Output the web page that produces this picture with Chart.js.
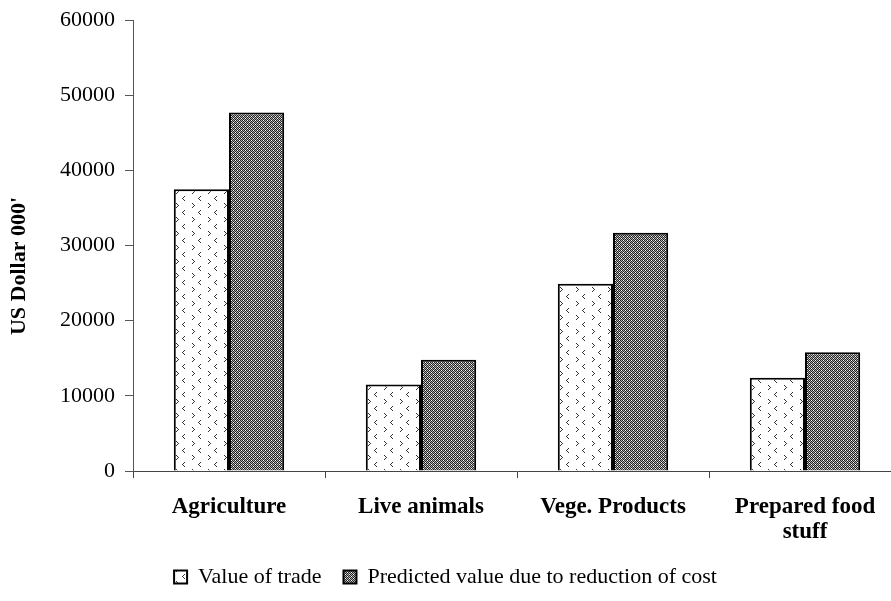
<!DOCTYPE html>
<html>
<head>
<meta charset="utf-8">
<script src="https://cdn.jsdelivr.net/npm/chart.js@4.4.1/dist/chart.umd.min.js"></script>
<style>
  html, body { margin: 0; padding: 0; background: #fff; overflow: hidden; }
  #wrap { width: 911px; height: 601px; }
</style>
</head>
<body>
<div id="wrap"><canvas id="trade-chart" width="911" height="601"></canvas></div>
<script>
// chart data
const categories = ['Agriculture', 'Live animals', 'Vege. Products', ['Prepared food', 'stuff']];
const valueOfTrade = [37500, 11500, 24900, 12400];
const predictedValue = [47700, 14800, 31700, 15800];
const seriesNames = ['Value of trade', 'Predicted value due to reduction of cost'];
const yTicks = [0, 10000, 20000, 30000, 40000, 50000, 60000];
const yTitle = "US Dollar 000'";

const serif = "'Liberation Serif', 'Times New Roman', serif";

// white with small dotted chevrons
function chevronPattern() {
    const c = document.createElement('canvas');
    c.width = 16; c.height = 14;
    const g = c.getContext('2d');
    g.fillStyle = '#fff';
    g.fillRect(0, 0, 16, 14);
    g.fillStyle = '#333';
    // '<'
    g.fillRect(8, 0, 1, 1); g.fillRect(7, 1, 1, 1); g.fillRect(6, 2, 1, 1);
    g.fillRect(7, 3, 1, 1); g.fillRect(8, 4, 1, 1);
    // '>'
    g.fillRect(0, 7, 1, 1); g.fillRect(1, 8, 1, 1); g.fillRect(2, 9, 1, 1);
    g.fillRect(1, 10, 1, 1); g.fillRect(0, 11, 1, 1);
    return g.createPattern(c, 'repeat');
}

// dense grey checker
function checkerPattern() {
    const c = document.createElement('canvas');
    c.width = 4; c.height = 4;
    const g = c.getContext('2d');
    for (let x = 0; x < 4; x++) {
        for (let y = 0; y < 4; y++) {
            g.fillStyle = (x + y) % 2 === 0 ? '#222' : '#b0b0b0';
            g.fillRect(x, y, 1, 1);
        }
    }
    g.fillStyle = '#fff';
    g.fillRect(1, 2, 1, 1);
    g.fillRect(3, 0, 1, 1);
    return g.createPattern(c, 'repeat');
}

const yTitlePlugin = {
    id: 'yTitle',
    afterDraw(chart) {
        const ctx = chart.ctx;
        ctx.save();
        ctx.translate(19, 266);
        ctx.rotate(-Math.PI / 2);
        ctx.font = 'bold 22px ' + serif;
        ctx.fillStyle = '#000';
        ctx.textAlign = 'center';
        ctx.textBaseline = 'middle';
        ctx.fillText(yTitle, 0, 0);
        ctx.restore();
    }
};

const ctx = document.getElementById('trade-chart').getContext('2d');
const tradeChart = new Chart(ctx, {
    type: 'bar',
    data: {
        labels: categories,
        datasets: [{
            label: seriesNames[0],
            data: valueOfTrade,
            backgroundColor: chevronPattern(),
            borderColor: '#000',
            borderWidth: 2
        }, {
            label: seriesNames[1],
            data: predictedValue,
            backgroundColor: checkerPattern(),
            borderColor: '#000',
            borderWidth: 2
        }]
    },
    options: {
        responsive: false,
        animation: false,
        layout: {
            padding: { top: 20, left: -10, right: 10, bottom: 3 }
        },
        datasets: {
            bar: { categoryPercentage: 0.575, barPercentage: 1.0 }
        },
        scales: {
            x: {
                afterFit(axis) { axis.height = 73; },
                grid: {
                    display: true,
                    drawOnChartArea: false,
                    drawTicks: true,
                    tickLength: 7,
                    color: '#444',
                    offset: true
                },
                border: { display: true, color: '#444', width: 1 },
                ticks: {
                    color: '#000',
                    padding: 16,
                    maxRotation: 0,
                    autoSkip: false,
                    font: { family: serif, size: 23, weight: 'bold', lineHeight: 1.1 }
                }
            },
            y: {
                min: 0,
                max: 60000,
                afterFit(axis) {
                    axis.width = 143;
                    axis.paddingTop = 10;
                },
                afterBuildTicks(axis) { axis.ticks = yTicks.map(v => ({ value: v })); },
                grid: {
                    display: true,
                    drawOnChartArea: false,
                    drawTicks: true,
                    tickLength: 8,
                    color: '#555'
                },
                border: { display: true, color: '#555', width: 1 },
                ticks: {
                    color: '#000',
                    padding: 10,
                    font: { family: serif, size: 22 },
                    callback: v => String(v)
                }
            }
        },
        plugins: {
            legend: {
                display: true,
                position: 'bottom',
                labels: {
                    color: '#000',
                    boxWidth: 13,
                    boxHeight: 13,
                    padding: 22,
                    font: { family: serif, size: 22 }
                }
            },
            title: { display: false },
            tooltip: { enabled: false }
        }
    },
    plugins: [yTitlePlugin]
});
</script>
</body>
</html>
